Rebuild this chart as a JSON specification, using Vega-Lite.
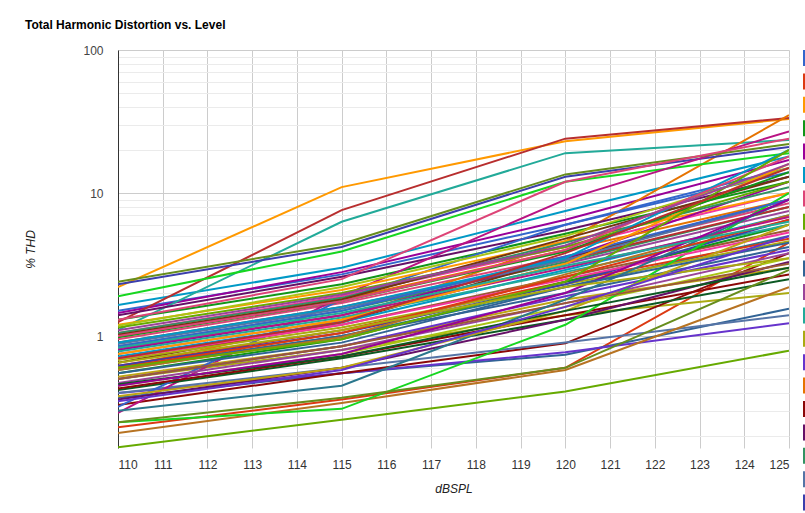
{
  "$schema": "https://vega.github.io/schema/vega-lite/v6.json",
  "autosize": {"type": "none"},
  "width": 671,
  "height": 398,
  "padding": {"left": 118, "top": 50, "right": 16, "bottom": 65},
  "background": "white",
  "config": {
    "view": {"stroke": null},
    "font": "Liberation Sans"
  },
  "title": {
    "text": "Total Harmonic Distortion vs. Level",
    "anchor": "start",
    "font": "Liberation Sans",
    "fontSize": 12,
    "fontWeight": "bold",
    "color": "#000000",
    "offset": 12
  },
  "datasets": {
    "thd": [
      {"model":"S01","level":110,"thd":1.5},{"model":"S01","level":115,"thd":2.7},{"model":"S01","level":120,"thd":6.0},{"model":"S01","level":125,"thd":14},
      {"model":"S02","level":110,"thd":0.23},{"model":"S02","level":115,"thd":0.36},{"model":"S02","level":120,"thd":0.6},{"model":"S02","level":125,"thd":4.5},
      {"model":"S03","level":110,"thd":2.2},{"model":"S03","level":115,"thd":11},{"model":"S03","level":120,"thd":23},{"model":"S03","level":125,"thd":33},
      {"model":"S04","level":110,"thd":1.3},{"model":"S04","level":115,"thd":2.3},{"model":"S04","level":120,"thd":5.2},{"model":"S04","level":125,"thd":12},
      {"model":"S05","level":110,"thd":1.45},{"model":"S05","level":115,"thd":2.8},{"model":"S05","level":120,"thd":6.5},{"model":"S05","level":125,"thd":17},
      {"model":"S06","level":110,"thd":1.65},{"model":"S06","level":115,"thd":3.0},{"model":"S06","level":120,"thd":7.5},{"model":"S06","level":125,"thd":18},
      {"model":"S07","level":110,"thd":0.95},{"model":"S07","level":115,"thd":1.7},{"model":"S07","level":120,"thd":3.6},{"model":"S07","level":125,"thd":8.5},
      {"model":"S08","level":110,"thd":0.167},{"model":"S08","level":115,"thd":0.26},{"model":"S08","level":120,"thd":0.41},{"model":"S08","level":125,"thd":0.79},
      {"model":"S09","level":110,"thd":1.25},{"model":"S09","level":115,"thd":7.6},{"model":"S09","level":120,"thd":24},{"model":"S09","level":125,"thd":33.5},
      {"model":"S10","level":110,"thd":0.37},{"model":"S10","level":115,"thd":0.55},{"model":"S10","level":120,"thd":0.74},{"model":"S10","level":125,"thd":1.55},
      {"model":"S11","level":110,"thd":0.75},{"model":"S11","level":115,"thd":1.3},{"model":"S11","level":120,"thd":3.2},{"model":"S11","level":125,"thd":7.5},
      {"model":"S12","level":110,"thd":1.1},{"model":"S12","level":115,"thd":6.3},{"model":"S12","level":120,"thd":19},{"model":"S12","level":125,"thd":23.5},
      {"model":"S13","level":110,"thd":0.5},{"model":"S13","level":115,"thd":0.8},{"model":"S13","level":120,"thd":1.4},{"model":"S13","level":125,"thd":2.0},
      {"model":"S14","level":110,"thd":0.4},{"model":"S14","level":115,"thd":0.55},{"model":"S14","level":120,"thd":0.77},{"model":"S14","level":125,"thd":1.23},
      {"model":"S15","level":110,"thd":0.6},{"model":"S15","level":115,"thd":1.3},{"model":"S15","level":120,"thd":4.6},{"model":"S15","level":125,"thd":35},
      {"model":"S16","level":110,"thd":0.33},{"model":"S16","level":115,"thd":0.55},{"model":"S16","level":120,"thd":0.89},{"model":"S16","level":125,"thd":3.8},
      {"model":"S17","level":110,"thd":1.4},{"model":"S17","level":115,"thd":2.6},{"model":"S17","level":120,"thd":5.5},{"model":"S17","level":125,"thd":13},
      {"model":"S18","level":110,"thd":0.85},{"model":"S18","level":115,"thd":1.5},{"model":"S18","level":120,"thd":3.3},{"model":"S18","level":125,"thd":8},
      {"model":"S19","level":110,"thd":0.4},{"model":"S19","level":115,"thd":0.6},{"model":"S19","level":120,"thd":0.9},{"model":"S19","level":125,"thd":1.4},
      {"model":"S20","level":110,"thd":2.3},{"model":"S20","level":115,"thd":4.2},{"model":"S20","level":120,"thd":13},{"model":"S20","level":125,"thd":21},
      {"model":"S21","level":110,"thd":0.21},{"model":"S21","level":115,"thd":0.34},{"model":"S21","level":120,"thd":0.58},{"model":"S21","level":125,"thd":2.2},
      {"model":"S22","level":110,"thd":1.9},{"model":"S22","level":115,"thd":3.9},{"model":"S22","level":120,"thd":12},{"model":"S22","level":125,"thd":19},
      {"model":"S23","level":110,"thd":0.29},{"model":"S23","level":115,"thd":1.9},{"model":"S23","level":120,"thd":9},{"model":"S23","level":125,"thd":27},
      {"model":"S24","level":110,"thd":1.05},{"model":"S24","level":115,"thd":1.9},{"model":"S24","level":120,"thd":4.2},{"model":"S24","level":125,"thd":10},
      {"model":"S25","level":110,"thd":0.7},{"model":"S25","level":115,"thd":1.2},{"model":"S25","level":120,"thd":2.6},{"model":"S25","level":125,"thd":5.5},
      {"model":"S26","level":110,"thd":0.45},{"model":"S26","level":115,"thd":0.75},{"model":"S26","level":120,"thd":1.6},{"model":"S26","level":125,"thd":3.5},
      {"model":"S27","level":110,"thd":0.6},{"model":"S27","level":115,"thd":1.0},{"model":"S27","level":120,"thd":2.2},{"model":"S27","level":125,"thd":5.0},
      {"model":"S28","level":110,"thd":2.4},{"model":"S28","level":115,"thd":4.4},{"model":"S28","level":120,"thd":13.5},{"model":"S28","level":125,"thd":22},
      {"model":"S29","level":110,"thd":0.52},{"model":"S29","level":115,"thd":0.85},{"model":"S29","level":120,"thd":1.8},{"model":"S29","level":125,"thd":3.0},
      {"model":"S30","level":110,"thd":0.42},{"model":"S30","level":115,"thd":0.7},{"model":"S30","level":120,"thd":1.3},{"model":"S30","level":125,"thd":2.5},
      {"model":"S31","level":110,"thd":0.65},{"model":"S31","level":115,"thd":1.25},{"model":"S31","level":120,"thd":3.5},{"model":"S31","level":125,"thd":9},
      {"model":"S32","level":110,"thd":0.32},{"model":"S32","level":115,"thd":1.8},{"model":"S32","level":120,"thd":6},{"model":"S32","level":125,"thd":15},
      {"model":"S33","level":110,"thd":0.62},{"model":"S33","level":115,"thd":1.1},{"model":"S33","level":120,"thd":2.4},{"model":"S33","level":125,"thd":4.8},
      {"model":"S34","level":110,"thd":1.2},{"model":"S34","level":115,"thd":2.1},{"model":"S34","level":120,"thd":4.6},{"model":"S34","level":125,"thd":10},
      {"model":"S35","level":110,"thd":0.55},{"model":"S35","level":115,"thd":0.95},{"model":"S35","level":120,"thd":2.4},{"model":"S35","level":125,"thd":6},
      {"model":"S36","level":110,"thd":0.8},{"model":"S36","level":115,"thd":1.4},{"model":"S36","level":120,"thd":3.5},{"model":"S36","level":125,"thd":12},
      {"model":"S37","level":110,"thd":0.72},{"model":"S37","level":115,"thd":1.25},{"model":"S37","level":120,"thd":2.9},{"model":"S37","level":125,"thd":7},
      {"model":"S38","level":110,"thd":1.3},{"model":"S38","level":115,"thd":2.5},{"model":"S38","level":120,"thd":12},{"model":"S38","level":125,"thd":24},
      {"model":"S39","level":110,"thd":1.15},{"model":"S39","level":115,"thd":2.0},{"model":"S39","level":120,"thd":4.2},{"model":"S39","level":125,"thd":12},
      {"model":"S40","level":110,"thd":0.9},{"model":"S40","level":115,"thd":1.6},{"model":"S40","level":120,"thd":3.4},{"model":"S40","level":125,"thd":8},
      {"model":"S41","level":110,"thd":0.58},{"model":"S41","level":115,"thd":1.0},{"model":"S41","level":120,"thd":2.0},{"model":"S41","level":125,"thd":4.2},
      {"model":"S42","level":110,"thd":0.47},{"model":"S42","level":115,"thd":0.8},{"model":"S42","level":120,"thd":1.7},{"model":"S42","level":125,"thd":3.8},
      {"model":"S43","level":110,"thd":0.78},{"model":"S43","level":115,"thd":1.35},{"model":"S43","level":120,"thd":2.8},{"model":"S43","level":125,"thd":6},
      {"model":"S44","level":110,"thd":0.68},{"model":"S44","level":115,"thd":1.15},{"model":"S44","level":120,"thd":2.3},{"model":"S44","level":125,"thd":4.6},
      {"model":"S45","level":110,"thd":0.5},{"model":"S45","level":115,"thd":0.85},{"model":"S45","level":120,"thd":1.9},{"model":"S45","level":125,"thd":4.0},
      {"model":"S46","level":110,"thd":1.0},{"model":"S46","level":115,"thd":1.8},{"model":"S46","level":120,"thd":4.0},{"model":"S46","level":125,"thd":9},
      {"model":"S47","level":110,"thd":0.43},{"model":"S47","level":115,"thd":0.72},{"model":"S47","level":120,"thd":1.4},{"model":"S47","level":125,"thd":2.7},
      {"model":"S48","level":110,"thd":0.36},{"model":"S48","level":115,"thd":0.6},{"model":"S48","level":120,"thd":1.3},{"model":"S48","level":125,"thd":3.3},
      {"model":"S49","level":110,"thd":1.05},{"model":"S49","level":115,"thd":1.85},{"model":"S49","level":120,"thd":4.5},{"model":"S49","level":125,"thd":11},
      {"model":"S50","level":110,"thd":0.88},{"model":"S50","level":115,"thd":1.55},{"model":"S50","level":120,"thd":3.4},{"model":"S50","level":125,"thd":9},
      {"model":"S51","level":110,"thd":0.62},{"model":"S51","level":115,"thd":1.05},{"model":"S51","level":120,"thd":2.3},{"model":"S51","level":125,"thd":6.5},
      {"model":"S52","level":110,"thd":0.58},{"model":"S52","level":115,"thd":0.98},{"model":"S52","level":120,"thd":2.7},{"model":"S52","level":125,"thd":7},
      {"model":"S53","level":110,"thd":0.25},{"model":"S53","level":115,"thd":0.31},{"model":"S53","level":120,"thd":1.2},{"model":"S53","level":125,"thd":10},
      {"model":"S54","level":110,"thd":0.82},{"model":"S54","level":115,"thd":1.4},{"model":"S54","level":120,"thd":3.0},{"model":"S54","level":125,"thd":6.8},
      {"model":"S55","level":110,"thd":0.7},{"model":"S55","level":115,"thd":1.2},{"model":"S55","level":120,"thd":2.5},{"model":"S55","level":125,"thd":5.3},
      {"model":"S56","level":110,"thd":0.5},{"model":"S56","level":115,"thd":0.85},{"model":"S56","level":120,"thd":1.7},{"model":"S56","level":125,"thd":3.2},
      {"model":"S57","level":110,"thd":1.18},{"model":"S57","level":115,"thd":2.2},{"model":"S57","level":120,"thd":5.0},{"model":"S57","level":125,"thd":15},
      {"model":"S58","level":110,"thd":0.3},{"model":"S58","level":115,"thd":0.45},{"model":"S58","level":120,"thd":1.8},{"model":"S58","level":125,"thd":9},
      {"model":"S59","level":110,"thd":0.25},{"model":"S59","level":115,"thd":0.37},{"model":"S59","level":120,"thd":0.6},{"model":"S59","level":125,"thd":2.9},
      {"model":"S60","level":110,"thd":0.38},{"model":"S60","level":115,"thd":0.6},{"model":"S60","level":120,"thd":1.5},{"model":"S60","level":125,"thd":6},
      {"model":"S61","level":110,"thd":0.46},{"model":"S61","level":115,"thd":0.72},{"model":"S61","level":120,"thd":1.5},{"model":"S61","level":125,"thd":3.0},
      {"model":"S62","level":110,"thd":1.02},{"model":"S62","level":115,"thd":1.8},{"model":"S62","level":120,"thd":4.8},{"model":"S62","level":125,"thd":13},
      {"model":"S63","level":110,"thd":0.85},{"model":"S63","level":115,"thd":1.5},{"model":"S63","level":120,"thd":3.6},{"model":"S63","level":125,"thd":9},
      {"model":"S64","level":110,"thd":0.6},{"model":"S64","level":115,"thd":1.05},{"model":"S64","level":120,"thd":2.6},{"model":"S64","level":125,"thd":6.5},
      {"model":"S65","level":110,"thd":0.75},{"model":"S65","level":115,"thd":1.3},{"model":"S65","level":120,"thd":3.2},{"model":"S65","level":125,"thd":16},
      {"model":"S66","level":110,"thd":0.98},{"model":"S66","level":115,"thd":1.75},{"model":"S66","level":120,"thd":3.9},{"model":"S66","level":125,"thd":14},
      {"model":"S67","level":110,"thd":0.45},{"model":"S67","level":115,"thd":0.75},{"model":"S67","level":120,"thd":2.0},{"model":"S67","level":125,"thd":9},
      {"model":"S68","level":110,"thd":0.9},{"model":"S68","level":115,"thd":1.6},{"model":"S68","level":120,"thd":3.5},{"model":"S68","level":125,"thd":20},
      {"model":"S69","level":110,"thd":1.0},{"model":"S69","level":115,"thd":1.75},{"model":"S69","level":120,"thd":4.0},{"model":"S69","level":125,"thd":18},
      {"model":"S70","level":110,"thd":0.6},{"model":"S70","level":115,"thd":0.95},{"model":"S70","level":120,"thd":2.4},{"model":"S70","level":125,"thd":20},
      {"model":"S71","level":110,"thd":0.7},{"model":"S71","level":115,"thd":1.25},{"model":"S71","level":120,"thd":3.8},{"model":"S71","level":125,"thd":15},
      {"model":"S72","level":110,"thd":0.55},{"model":"S72","level":115,"thd":0.9},{"model":"S72","level":120,"thd":2.2},{"model":"S72","level":125,"thd":4.5},
      {"model":"S73","level":110,"thd":1.1},{"model":"S73","level":115,"thd":1.95},{"model":"S73","level":120,"thd":4.3},{"model":"S73","level":125,"thd":16},
      {"model":"S74","level":110,"thd":0.83},{"model":"S74","level":115,"thd":1.45},{"model":"S74","level":120,"thd":3.1},{"model":"S74","level":125,"thd":6.3},
      {"model":"S75","level":110,"thd":0.65},{"model":"S75","level":115,"thd":1.1},{"model":"S75","level":120,"thd":2.2},{"model":"S75","level":125,"thd":3.5},
      {"model":"S76","level":110,"thd":0.35},{"model":"S76","level":115,"thd":0.58},{"model":"S76","level":120,"thd":1.6},{"model":"S76","level":125,"thd":5}
    ]
  },
  "data": {"name": "thd"},
  "mark": {"type": "line", "strokeWidth": 2, "clip": true},
  "encoding": {
    "x": {
      "field": "level",
      "type": "quantitative",
      "scale": {"domain": [110, 125], "nice": false, "zero": false},
      "axis": {
        "title": "dBSPL",
        "values": [110, 111, 112, 113, 114, 115, 116, 117, 118, 119, 120, 121, 122, 123, 124, 125],
        "format": "d",
        "grid": true,
        "gridColor": "#cccccc",
        "gridWidth": 1,
        "domain": false,
        "ticks": false,
        "labelPadding": 11,
        "labelFont": "Liberation Sans",
        "labelFontSize": 12,
        "labelColor": "#333333",
        "titleFont": "Liberation Sans",
        "titleFontSize": 12,
        "titleFontStyle": "italic",
        "titleFontWeight": "normal",
        "titleColor": "#222222",
        "titlePadding": 13
      }
    },
    "y": {
      "field": "thd",
      "type": "quantitative",
      "scale": {"type": "log", "domain": [0.165, 100], "nice": false},
      "axis": {
        "title": "% THD",
        "values": [0.2, 0.3, 0.4, 0.5, 0.6, 0.7, 0.8, 0.9, 1, 2, 3, 4, 5, 6, 7, 8, 9, 10, 20, 30, 40, 50, 60, 70, 80, 90, 100],
        "format": "~g",
        "labelExpr": "datum.value == 1 || datum.value == 10 || datum.value == 100 ? datum.label : ''",
        "grid": true,
        "gridColor": {
          "condition": {"test": "datum.value == 1 || datum.value == 10 || datum.value == 100", "value": "#cccccc"},
          "value": "#ebebeb"
        },
        "gridWidth": 1,
        "domain": true,
        "domainColor": "#333333",
        "domainWidth": 1,
        "ticks": false,
        "labelPadding": 15,
        "labelFont": "Liberation Sans",
        "labelFontSize": 12,
        "labelColor": "#444444",
        "titleFont": "Liberation Sans",
        "titleFontSize": 12,
        "titleFontStyle": "italic",
        "titleFontWeight": "normal",
        "titleColor": "#222222",
        "titlePadding": 45
      }
    },
    "color": {
      "field": "model",
      "type": "nominal",
      "scale": {
        "range": ["#3366cc", "#dc3912", "#ff9900", "#109618", "#990099", "#0099c6", "#dd4477", "#66aa00", "#b82e2e", "#316395", "#994499", "#22aa99", "#aaaa11", "#6633cc", "#e67300", "#8b0707", "#651067", "#329262", "#5574a6", "#3b3eac", "#b77322", "#16d620", "#b91383", "#f4359e", "#9c5935", "#a9c413", "#2a778d", "#668d1c", "#bea413", "#0c5922", "#743411"]
      },
      "legend": {
        "title": null,
        "orient": "right",
        "offset": 14,
        "padding": 0,
        "symbolType": "square",
        "symbolSize": 169,
        "symbolStrokeWidth": 3,
        "symbolOpacity": 1,
        "rowPadding": -2.6,
        "labelFontSize": 12,
        "labelLimit": 120
      }
    }
  }
}
